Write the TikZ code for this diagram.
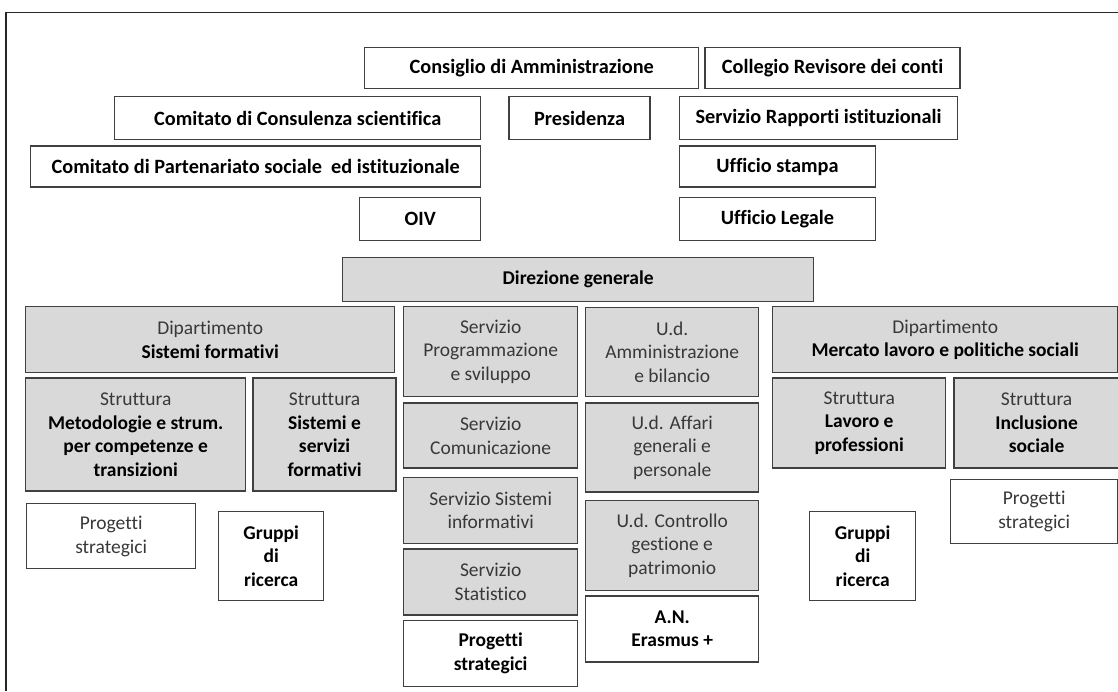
\documentclass[tikz,border=0pt]{standalone}
\usepackage{fontspec}
\setmainfont{Carlito}[Ligatures={TeX,NoCommon}]
\usetikzlibrary{positioning}

\tikzset{
  box/.style={draw=black!75, line width=0.7pt, inner sep=0pt, align=center, text=black!78, font=\fontsize{9.75}{11.8}\selectfont},
  topbox/.style={box, text=black, font=\fontsize{10.15}{10}\selectfont\bfseries},
  grbox/.style={box, fill=black!15},
}
\newcommand{\hb}[1]{\textcolor{black}{\textbf{#1}}}

\begin{document}
\begin{tikzpicture}[x=0.5pt, y=-0.5pt]
\useasboundingbox (0,0) rectangle (1118,691);

% outer frame
\draw[line width=0.75pt, black!85] (6,691) -- (6,12.5) -- (1118,12.5);

% organi
\node[topbox, minimum width=167pt, minimum height=20.5pt, anchor=north west] (cda) at (364,47) {Consiglio di Amministrazione};
\node[topbox, minimum width=127.5pt, minimum height=20.5pt, right=2.5pt of cda.north east, anchor=north west] (crc) {Collegio Revisore dei conti};

\node[topbox, minimum width=183pt, minimum height=21.5pt, anchor=north west] (ccs) at (114,96) {Comitato di Consulenza scientifica};
\node[topbox, minimum width=70.5pt, minimum height=21.5pt, right=13.5pt of ccs.north east, anchor=north west] (pres) {Presidenza};
\node[topbox, minimum width=139pt, minimum height=21.5pt, right=14pt of pres.north east, anchor=north west] (sri) {Servizio Rapporti istituzionali};

\node[topbox, minimum width=225pt, minimum height=20.5pt, below=2.5pt of ccs.south east, anchor=north east] (cps) {Comitato di Partenariato sociale \ ed istituzionale};
\node[topbox, minimum width=98pt, minimum height=20.5pt, below=2.5pt of sri.south west, anchor=north west] (ust) {Ufficio stampa};

\node[topbox, minimum width=60.5pt, minimum height=21.5pt, below=4.5pt of cps.south east, anchor=north east] (oiv) {OIV};
\node[topbox, minimum width=98pt, minimum height=21.5pt, below=4.5pt of ust.south west, anchor=north west] (ule) {Ufficio Legale};

% direzione
\node[grbox, minimum width=235.5pt, minimum height=22pt, anchor=north west] (dg) at (342,257) {\hb{Direzione generale}};

% dipartimento sistemi formativi
\node[grbox, minimum width=184.5pt, minimum height=33pt, anchor=north west] (dsf) at (25,306) {Dipartimento\\\hb{Sistemi formativi}};
\node[grbox, minimum width=110pt, minimum height=56.5pt, below=2pt of dsf.south west, anchor=north west] (smc) {Struttura\\\hb{Metodologie e strum.}\\\hb{per competenze e}\\\hb{transizioni}};
\node[grbox, minimum width=71.5pt, minimum height=56.5pt, right=3pt of smc.north east, anchor=north west] (sss) {Struttura\\\hb{Sistemi e}\\\hb{servizi}\\\hb{formativi}};
\node[box, minimum width=84.5pt, minimum height=32.5pt, anchor=north west] (psl) at (26,503) {Progetti\\strategici};
\node[box, minimum width=52.5pt, minimum height=44.5pt, anchor=north west] (grl) at (218,511) {\hb{Gruppi}\\\hb{di}\\\hb{ricerca}};

% servizi
\node[grbox, minimum width=87pt, minimum height=45pt, anchor=north west] (spr) at (403,306) {Servizio\\Programmazione\\e sviluppo};
\node[grbox, minimum width=87pt, minimum height=32.5pt, below=2.5pt of spr.south west, anchor=north west] (sco) {Servizio\\Comunicazione};
\node[grbox, minimum width=87pt, minimum height=33pt, below=4pt of sco.south west, anchor=north west] (ssi) {Servizio Sistemi\\informativi};
\node[grbox, minimum width=87pt, minimum height=33pt, below=2pt of ssi.south west, anchor=north west] (sst) {Servizio\\Statistico};
\node[box, minimum width=87pt, minimum height=33pt, below=2pt of sst.south west, anchor=north west] (pst) {\hb{Progetti}\\\hb{strategici}};

% unita dirigenziali
\node[grbox, minimum width=86.5pt, minimum height=44.5pt, anchor=north west] (uam) at (585,307) {U.d.\\Amministrazione\\e bilancio};
\node[grbox, minimum width=86.5pt, minimum height=44.5pt, below=2.5pt of uam.south west, anchor=north west] (uaf) {U.d. Affari\\generali e\\personale};
\node[grbox, minimum width=86.5pt, minimum height=45pt, below=3.5pt of uaf.south west, anchor=north west] (uco) {U.d. Controllo\\gestione e\\patrimonio};
\node[box, minimum width=86.5pt, minimum height=33pt, below=2pt of uco.south west, anchor=north west] (ane) {\hb{A.N.}\\\hb{Erasmus +}};

% dipartimento mercato lavoro
\node[grbox, minimum width=172.5pt, minimum height=33pt, anchor=north west] (dml) at (772,306) {Dipartimento\\\hb{Mercato lavoro e politiche sociali}};
\node[grbox, minimum width=86.5pt, minimum height=45pt, below=2pt of dml.south west, anchor=north west] (slp) {Struttura\\\hb{Lavoro e}\\\hb{professioni}};
\node[grbox, minimum width=82.5pt, minimum height=45pt, right=3.5pt of slp.north east, anchor=north west] (sis) {Struttura\\\hb{Inclusione}\\\hb{sociale}};
\node[box, minimum width=83.5pt, minimum height=32pt, anchor=north west] (psr) at (950,479) {Progetti\\strategici};
\node[box, minimum width=53pt, minimum height=44.5pt, anchor=north west] (grr) at (809,511) {\hb{Gruppi}\\\hb{di}\\\hb{ricerca}};
\end{tikzpicture}
\end{document}
